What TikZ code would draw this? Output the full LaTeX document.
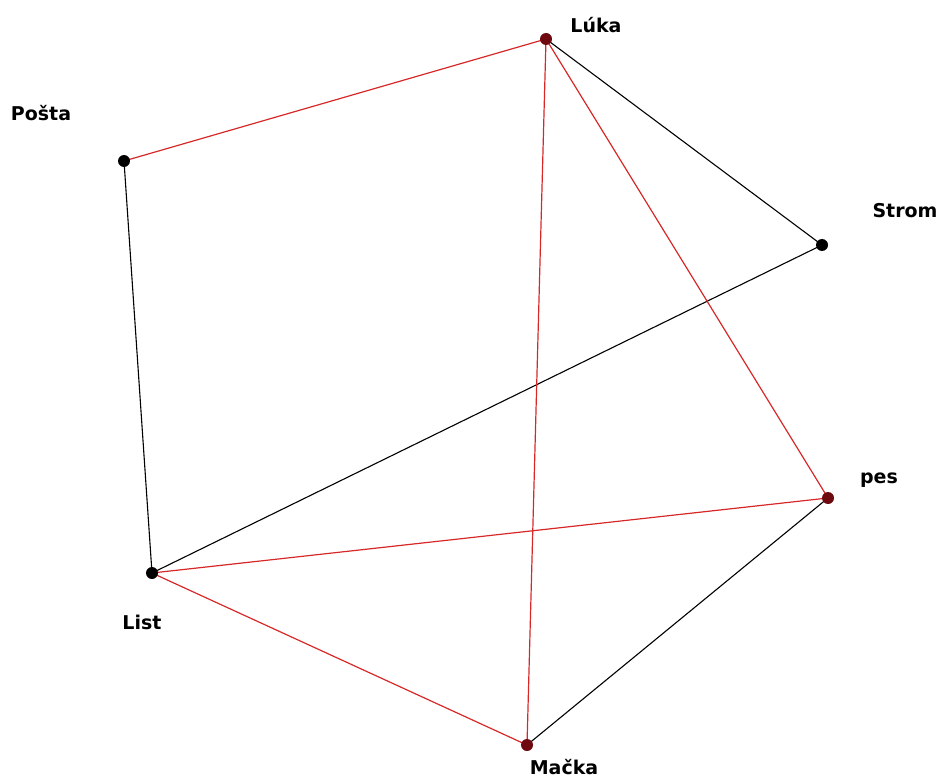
\documentclass[tikz,border=0pt]{standalone}
\usepackage{fontspec}
\setmainfont{DejaVu Sans}
\definecolor{edgered}{RGB}{215,40,40}
\definecolor{dotred}{RGB}{110,10,15}
\begin{document}
\begin{tikzpicture}[x=1pt,y=-1pt,
  vtx/.style={circle,inner sep=0pt,minimum size=12pt},
  blk/.style={vtx,fill=black},
  rdd/.style={vtx,fill=dotred},
  lab/.style={font=\fontsize{19}{22}\selectfont\bfseries,inner sep=0pt},
  redge/.style={edgered,line width=1.2pt},
  bedge/.style={black,line width=1.1pt}]
\useasboundingbox (0,0) rectangle (940,778);
\coordinate (luka) at (546,39);
\coordinate (posta) at (124,161);
\coordinate (strom) at (822,245);
\coordinate (pes) at (828,498);
\coordinate (list) at (152,573);
\coordinate (macka) at (527,745);
\node[lab] (lluka) at (596,25) {Lúka};
\node[lab] (lposta) at (41,113) {Pošta};
\node[lab] (lstrom) at (905,211) {Strom};
\node[lab] (lpes) at (879,480) {pes};
\node[lab] (llist) at (142,622) {List};
\node[lab] (lmacka) at (564,767) {Mačka};
\draw[bedge] (posta) -- (list);
\draw[bedge] (luka) -- (strom);
\draw[bedge] (strom) -- (list);
\draw[bedge] (macka) -- (pes);
\draw[redge] (posta) -- (luka);
\draw[redge] (luka) -- (macka);
\draw[redge] (luka) -- (pes);
\draw[redge] (list) -- (pes);
\draw[redge] (list) -- (macka);
\node[rdd] (dluka) at (luka) {};
\node[blk] (dposta) at (posta) {};
\node[blk] (dstrom) at (strom) {};
\node[rdd] (dpes) at (pes) {};
\node[blk] (dlist) at (list) {};
\node[rdd] (dmacka) at (macka) {};
\end{tikzpicture}
\end{document}
